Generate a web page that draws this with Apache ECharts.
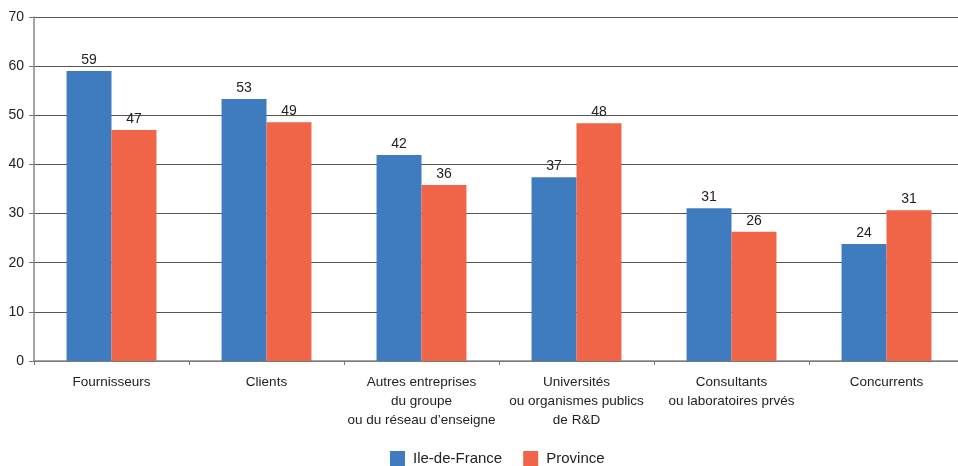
<!DOCTYPE html>
<html><head><meta charset="utf-8">
<script src="https://cdn.jsdelivr.net/npm/echarts@6/dist/echarts.min.js"></script>
<style>html,body{margin:0;padding:0;background:#fff;overflow:hidden;width:958px;height:466px}#c{width:972px;height:466px}</style>
</head><body><div id="c"></div>
<script>
const categories = ["Fournisseurs", "Clients", "Autres entreprises\ndu groupe\nou du réseau d’enseigne", "Universités\nou organismes publics\nde R&D", "Consultants\nou laboratoires prvés", "Concurrents"];
const ileDeFrance = [59, 53.3, 41.9, 37.4, 31.1, 23.8];
const province = [47, 48.6, 35.8, 48.4, 26.3, 30.7];
const seriesNames = ["Ile-de-France", "Province"];
const yTicks = {min: 0, max: 70, interval: 10};

const font = "'Liberation Sans', Arial, sans-serif";
const chart = echarts.init(document.getElementById('c'), null, {renderer: 'canvas'});
const lbl = {show: true, position: 'top', distance: 4, color: '#222', fontSize: 14, fontFamily: font,
  formatter: p => Math.round(p.value)};
chart.setOption({
  animation: false,
  textStyle: {fontFamily: font},
  grid: {left: 34, right: 8, top: 17, bottom: 105, containLabel: false},
  legend: {top: 446, left: 385, itemWidth: 15, itemHeight: 15, itemGap: 21,
    icon: 'rect', textStyle: {fontSize: 15, color: '#222', fontFamily: font, padding: [0,0,0,3]},
    data: seriesNames},
  xAxis: {type: 'category', data: categories,
    axisLine: {lineStyle: {color: '#888', width: 1.5}},
    axisTick: {show: true, length: 4, lineStyle: {color: '#777'}},
    axisLabel: {color: '#222', fontSize: 13.5, fontFamily: font, lineHeight: 19, margin: 12, interval: 0}},
  yAxis: {type: 'value', min: yTicks.min, max: yTicks.max, interval: yTicks.interval,
    axisLine: {show: true, lineStyle: {color: '#888', width: 1.5}},
    axisTick: {show: true, length: 5, lineStyle: {color: '#777'}},
    splitLine: {lineStyle: {color: '#555', width: 1}},
    axisLabel: {color: '#222', fontSize: 14, fontFamily: font, margin: 10}},
  series: [
    {name: seriesNames[0], type: 'bar', data: ileDeFrance, barGap: '0%', barCategoryGap: '42%',
     itemStyle: {color: '#3f7bbf'}, label: lbl},
    {name: seriesNames[1], type: 'bar', data: province, barGap: '0%', barCategoryGap: '42%',
     itemStyle: {color: '#f06548'}, label: lbl}
  ]
});
</script></body></html>
